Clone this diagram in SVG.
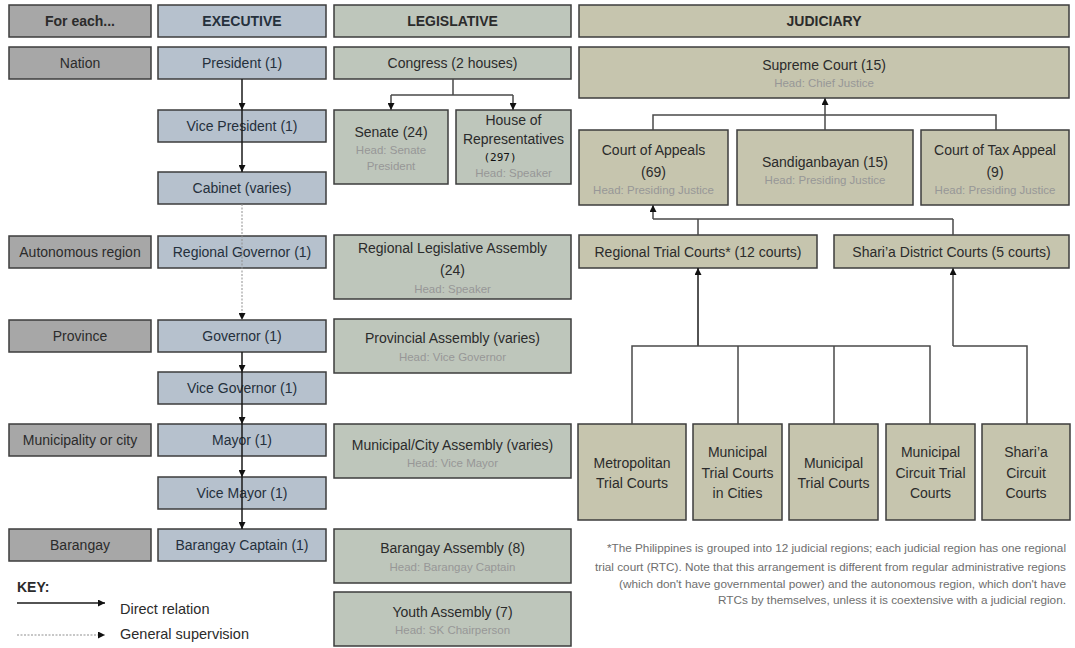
<svg xmlns="http://www.w3.org/2000/svg" width="1075" height="648" viewBox="0 0 1075 648">
<style>
rect{stroke:#3d3d3d;stroke-width:1.5}
rect.bg{stroke:none;fill:#ffffff}
.fe{fill:#a7a7a7}
.ex{fill:#b6c1cd}
.lg{fill:#bec6bb}
.ju{fill:#c6c5ae}
text{font-family:"Liberation Sans",Arial,sans-serif;font-size:14px;fill:#2b2b2b;text-anchor:middle}
.h{font-weight:bold}
.exT{fill:#25303c}
.sub{font-size:11.5px;fill:#979797}
.fn{font-size:10.5px;fill:#6e6e6e;text-anchor:end}
.key{text-anchor:start;font-size:14.5px}
.c{fill:none;stroke:#1a1a1a;stroke-width:1.5}
.d{fill:none;stroke:#8f8f8f;stroke-width:1;stroke-dasharray:2,1.5}
.j{fill:none;stroke:#4a4a4a;stroke-width:1.5}
</style>
<defs>
<marker id="ah" viewBox="0 0 10 10" refX="10" refY="5" markerWidth="8" markerHeight="7" markerUnits="userSpaceOnUse" orient="auto"><path d="M0,0 L10,5 L0,10 z" fill="#111"/></marker>
</defs>
<rect class="bg" width="1075" height="648"/>

<g id="foreach-header"><rect class="fe" x="9" y="5" width="142" height="32"/><text class="h" x="80" y="26">For each...</text></g>
<g id="nation"><rect class="fe" x="9" y="47" width="142" height="32"/><text x="80" y="68">Nation</text></g>
<g id="autonomous"><rect class="fe" x="9" y="236" width="142" height="32"/><text x="80" y="257">Autonomous region</text></g>
<g id="province"><rect class="fe" x="9" y="320" width="142" height="32"/><text x="80" y="341">Province</text></g>
<g id="municipality"><rect class="fe" x="9" y="424" width="142" height="32"/><text x="80" y="445">Municipality or city</text></g>
<g id="barangay"><rect class="fe" x="9" y="529" width="142" height="32"/><text x="80" y="550">Barangay</text></g>

<g id="exec-header"><rect class="ex" x="158" y="5" width="168" height="32"/><text class="h exT" x="242" y="26">EXECUTIVE</text></g>
<g id="president"><rect class="ex" x="158" y="47" width="168" height="32"/><text class="exT" x="242" y="68">President (1)</text></g>
<g id="vice-president"><rect class="ex" x="158" y="110" width="168" height="32"/><text class="exT" x="242" y="131">Vice President (1)</text></g>
<g id="cabinet"><rect class="ex" x="158" y="172" width="168" height="32"/><text class="exT" x="242" y="193">Cabinet (varies)</text></g>
<g id="regional-governor"><rect class="ex" x="158" y="236" width="168" height="32"/><text class="exT" x="242" y="257">Regional Governor (1)</text></g>
<g id="governor"><rect class="ex" x="158" y="320" width="168" height="32"/><text class="exT" x="242" y="341">Governor (1)</text></g>
<g id="vice-governor"><rect class="ex" x="158" y="372" width="168" height="32"/><text class="exT" x="242" y="393">Vice Governor (1)</text></g>
<g id="mayor"><rect class="ex" x="158" y="424" width="168" height="32"/><text class="exT" x="242" y="445">Mayor (1)</text></g>
<g id="vice-mayor"><rect class="ex" x="158" y="477" width="168" height="32"/><text class="exT" x="242" y="498">Vice Mayor (1)</text></g>
<g id="barangay-captain"><rect class="ex" x="158" y="529" width="168" height="32"/><text class="exT" x="242" y="550">Barangay Captain (1)</text></g>

<g id="leg-header"><rect class="lg" x="334" y="5" width="237" height="32"/><text class="h" x="452.5" y="26">LEGISLATIVE</text></g>
<g id="congress"><rect class="lg" x="334" y="47" width="237" height="32"/><text x="452.5" y="68">Congress (2 houses)</text></g>
<g id="senate"><rect class="lg" x="334" y="110" width="114" height="74"/><text x="391" y="137">Senate (24)</text><text class="sub" x="391" y="154">Head: Senate</text><text class="sub" x="391" y="170">President</text></g>
<g id="house"><rect class="lg" x="456" y="110" width="115" height="74"/><text x="513.5" y="125">House of</text><text x="513.5" y="144">Representatives</text><text x="500" y="161" style="font-family:'DejaVu Sans Mono',monospace;font-size:11px;fill:#111">(297)</text><text class="sub" x="513.5" y="177">Head: Speaker</text></g>
<g id="regional-assembly"><rect class="lg" x="334" y="235" width="237" height="64"/><text x="452.5" y="253">Regional Legislative Assembly</text><text x="452.5" y="275">(24)</text><text class="sub" x="452.5" y="293">Head: Speaker</text></g>
<g id="provincial-assembly"><rect class="lg" x="334" y="319" width="237" height="54"/><text x="452.5" y="343">Provincial Assembly (varies)</text><text class="sub" x="452.5" y="361">Head: Vice Governor</text></g>
<g id="municipal-assembly"><rect class="lg" x="334" y="424" width="237" height="54"/><text x="452.5" y="450">Municipal/City Assembly (varies)</text><text class="sub" x="452.5" y="467">Head: Vice Mayor</text></g>
<g id="barangay-assembly"><rect class="lg" x="334" y="529" width="237" height="54"/><text x="452.5" y="553">Barangay Assembly (8)</text><text class="sub" x="452.5" y="571">Head: Barangay Captain</text></g>
<g id="youth-assembly"><rect class="lg" x="334" y="592" width="237" height="54"/><text x="452.5" y="617">Youth Assembly (7)</text><text class="sub" x="452.5" y="634">Head: SK Chairperson</text></g>

<g id="jud-header"><rect class="ju" x="579" y="5" width="490" height="32"/><text class="h" x="824" y="26">JUDICIARY</text></g>
<g id="supreme-court"><rect class="ju" x="579" y="47" width="490" height="51"/><text x="824" y="70">Supreme Court (15)</text><text class="sub" x="824" y="87">Head: Chief Justice</text></g>
<g id="court-of-appeals"><rect class="ju" x="579" y="130" width="149" height="75"/><text x="653.5" y="155">Court of Appeals</text><text x="653.5" y="177">(69)</text><text class="sub" x="653.5" y="194">Head: Presiding Justice</text></g>
<g id="sandiganbayan"><rect class="ju" x="737" y="130" width="176" height="75"/><text x="825" y="167">Sandiganbayan (15)</text><text class="sub" x="825" y="184">Head: Presiding Justice</text></g>
<g id="tax-appeals"><rect class="ju" x="921" y="130" width="148" height="75"/><text x="995" y="155">Court of Tax Appeal</text><text x="995" y="177">(9)</text><text class="sub" x="995" y="194">Head: Presiding Justice</text></g>
<g id="rtc"><rect class="ju" x="579" y="235" width="238" height="33"/><text x="698" y="257">Regional Trial Courts* (12 courts)</text></g>
<g id="sharia-district"><rect class="ju" x="834" y="235" width="235" height="33"/><text x="951.5" y="257">Shari’a District Courts (5 courts)</text></g>
<g id="metc"><rect class="ju" x="578" y="424" width="108" height="96"/><text x="632" y="468">Metropolitan</text><text x="632" y="488">Trial Courts</text></g>
<g id="mtcc"><rect class="ju" x="693" y="424" width="89" height="96"/><text x="737.5" y="457">Municipal</text><text x="737.5" y="478">Trial Courts</text><text x="737.5" y="498">in Cities</text></g>
<g id="mtc"><rect class="ju" x="789" y="424" width="89" height="96"/><text x="833.5" y="468">Municipal</text><text x="833.5" y="488">Trial Courts</text></g>
<g id="mctc"><rect class="ju" x="886" y="424" width="89" height="96"/><text x="930.5" y="457">Municipal</text><text x="930.5" y="478">Circuit Trial</text><text x="930.5" y="498">Courts</text></g>
<g id="sharia-circuit"><rect class="ju" x="982" y="424" width="88" height="96"/><text x="1026" y="457">Shari’a</text><text x="1026" y="478">Circuit</text><text x="1026" y="498">Courts</text></g>

<g id="connectors">
<path class="c" d="M242,79 V110" marker-end="url(#ah)"/>
<path class="c" d="M242,110 V172" marker-end="url(#ah)"/>
<path class="d" d="M242,204 V320" marker-end="url(#ah)"/>
<path class="c" d="M242,352 V372" marker-end="url(#ah)"/>
<path class="c" d="M242,372 V424" marker-end="url(#ah)"/>
<path class="c" d="M242,424 V477" marker-end="url(#ah)"/>
<path class="c" d="M242,477 V529" marker-end="url(#ah)"/>
<path class="j" d="M453,79 V95 M391,95 H513"/>
<path class="j" d="M391,95 V110" marker-end="url(#ah)"/>
<path class="j" d="M513,95 V110" marker-end="url(#ah)"/>
<path class="j" d="M825,130 V98" marker-end="url(#ah)"/>
<path class="j" d="M653,130 V115 H996 V130"/>
<path class="j" d="M653,219 V205" marker-end="url(#ah)"/>
<path class="j" d="M653,219 H953 M698,219 V235 M953,219 V235"/>
<path class="c" d="M698,346 V268" marker-end="url(#ah)"/>
<path class="j" d="M632,424 V346 H930 V424 M738,346 V424 M834,346 V424"/>
<path class="j" d="M953,346 V268" marker-end="url(#ah)"/>
<path class="j" d="M953,346 H1027 V424"/>
</g>

<g id="key">
<text class="h key" x="17" y="592" style="font-size:14px">KEY:</text>
<path class="c" d="M17,603 H105" marker-end="url(#ah)"/>
<text class="key" x="120" y="614">Direct relation</text>
<path class="d" d="M17,635 H105" marker-end="url(#ah)"/>
<text class="key" x="120" y="639">General supervision</text>
</g>

<g id="footnote">
<text class="fn" x="1066" y="552" textLength="459" lengthAdjust="spacingAndGlyphs">*The Philippines is grouped into 12 judicial regions; each judicial region has one regional</text>
<text class="fn" x="1066" y="571" textLength="471" lengthAdjust="spacingAndGlyphs">trial court (RTC). Note that this arrangement is different from regular administrative regions</text>
<text class="fn" x="1066" y="588" textLength="447" lengthAdjust="spacingAndGlyphs">(which don't have governmental power) and the autonomous region, which don't have</text>
<text class="fn" x="1066" y="604" textLength="348" lengthAdjust="spacingAndGlyphs">RTCs by themselves, unless it is coextensive with a judicial region.</text>
</g>
</svg>
